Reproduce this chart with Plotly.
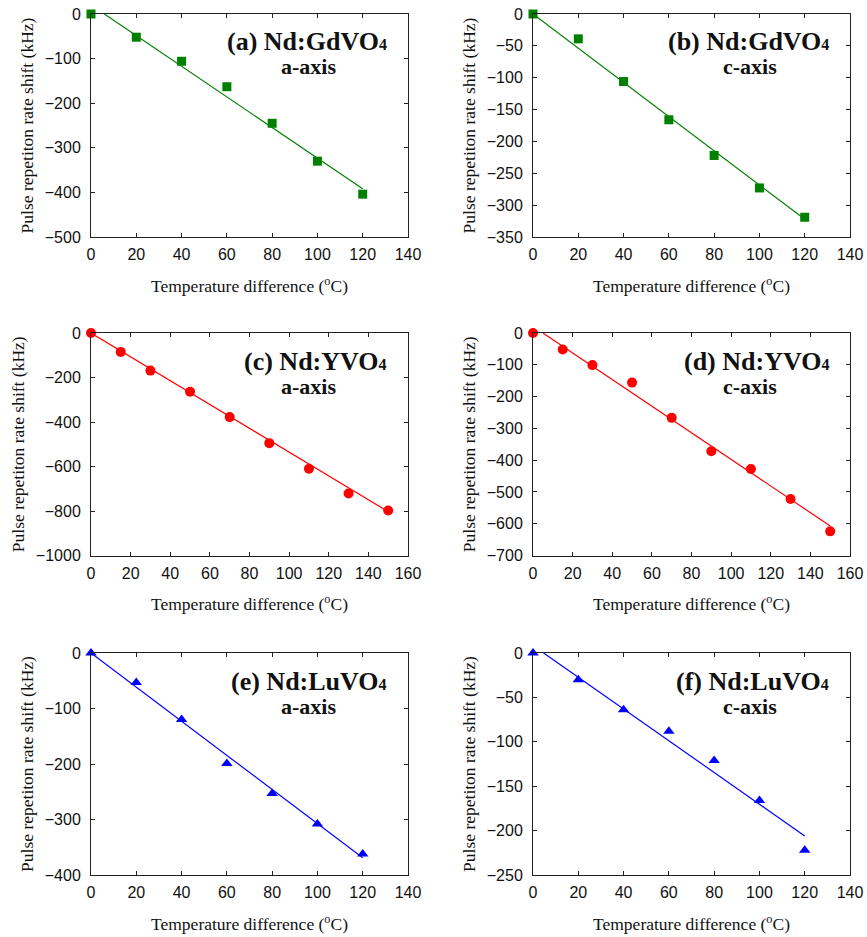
import plotly.graph_objects as go

W, H = 867, 937

# ---- data ----
temp_gd = [0, 20, 40, 60, 80, 100, 120]
shift_gd_a = [0, -52, -106, -163, -245, -330, -404]
fit_gd_a_x = [5.9, 120]
fit_gd_a_y = [0, -392]

shift_gd_c = [0, -39, -106, -166, -222, -273, -319]
fit_gd_c_x = [0, 120]
fit_gd_c_y = [0, -322]

temp_y = [0, 15, 30, 50, 70, 90, 110, 130, 150]
shift_y_a = [0, -85, -169, -264, -378, -495, -610, -721, -798]
fit_y_a_x = [0, 150]
fit_y_a_y = [0, -803]

shift_y_c = [0, -52, -101, -156, -267, -372, -428, -522, -624]
fit_y_c_x = [5, 150]
fit_y_c_y = [0, -607]

temp_lu = [0, 20, 40, 60, 80, 100, 120]
shift_lu_a = [0, -53, -120, -199, -253, -308, -362]
fit_lu_a_x = [0, 120]
fit_lu_a_y = [0, -369]

shift_lu_c = [0, -30, -64, -88, -121, -166, -222]
fit_lu_c_x = [4.7, 120]
fit_lu_c_y = [0, -206]

x_ranges = [[0, 140], [0, 140], [0, 160], [0, 160], [0, 140], [0, 140]]
y_ranges = [[-500, 0], [-350, 0], [-1000, 0], [-700, 0], [-400, 0], [-250, 0]]
y_dticks = [100, 50, 200, 100, 100, 50]

titles = ["(a) Nd:GdVO", "(b) Nd:GdVO", "(c) Nd:YVO", "(d) Nd:YVO", "(e) Nd:LuVO", "(f) Nd:LuVO"]
subtitles = ["a-axis", "c-axis", "a-axis", "c-axis", "a-axis", "c-axis"]

GREEN = "#008000"
RED = "#ff0000"
BLUE = "#0000ff"

panels = [
    (temp_gd, shift_gd_a, fit_gd_a_x, fit_gd_a_y, GREEN, "square", 9),
    (temp_gd, shift_gd_c, fit_gd_c_x, fit_gd_c_y, GREEN, "square", 9),
    (temp_y, shift_y_a, fit_y_a_x, fit_y_a_y, RED, "circle", 10),
    (temp_y, shift_y_c, fit_y_c_x, fit_y_c_y, RED, "circle", 10),
    (temp_lu, shift_lu_a, fit_lu_a_x, fit_lu_a_y, BLUE, "triangle-up", 10),
    (temp_lu, shift_lu_c, fit_lu_c_x, fit_lu_c_y, BLUE, "triangle-up", 10),
]

# pixel layout of plot frames
col_px = [(91, 408), (533, 850)]
row_px = [(14, 237), (333, 555.5), (653, 875)]

SERIF = "Liberation Serif, Times New Roman, serif"
SANS = "Liberation Sans, Arial, sans-serif"

fig = go.Figure()
layout = dict(
    width=W, height=H,
    margin=dict(l=0, r=0, t=0, b=0, pad=0),
    paper_bgcolor="white", plot_bgcolor="white",
    showlegend=False,
)
annotations = []

for i, (xs, ys, fx, fy, color, sym, msize) in enumerate(panels):
    r, c = divmod(i, 2)
    n = i + 1
    xa = "x" if n == 1 else f"x{n}"
    ya = "y" if n == 1 else f"y{n}"
    fig.add_trace(go.Scatter(x=fx, y=fy, mode="lines", xaxis=xa, yaxis=ya,
                             line=dict(color=color, width=1.2)))
    fig.add_trace(go.Scatter(x=xs, y=ys, mode="markers", xaxis=xa, yaxis=ya,
                             marker=dict(color=color, symbol=sym, size=msize,
                                         line=dict(width=0)),
                             cliponaxis=False))
    x0, x1 = col_px[c]
    y0, y1 = row_px[r]
    common = dict(showline=True, linecolor="#222", linewidth=1, mirror="ticks",
                  ticks="inside", ticklen=4, tickcolor="#222", showgrid=False,
                  zeroline=False, automargin=False,
                  tickfont=dict(family=SANS, size=16, color="#111"))
    layout["xaxis" if n == 1 else f"xaxis{n}"] = dict(
        domain=[x0 / W, x1 / W], anchor=ya, range=x_ranges[i], dtick=20,
        ticklabelstandoff=3,
        title=dict(text="Temperature difference (<sup>o</sup>C)", standoff=17,
                   font=dict(family=SERIF, size=17.5, color="#111")),
        **common)
    layout["yaxis" if n == 1 else f"yaxis{n}"] = dict(
        domain=[1 - y1 / H, 1 - y0 / H], anchor=xa, range=y_ranges[i], dtick=y_dticks[i],
        ticklabelstandoff=6,
        title=dict(text="Pulse repetiton rate shift (kHz)", standoff=6,
                   font=dict(family=SERIF, size=17.5, color="#111")),
        **common)
    # panel titles
    annotations.append(dict(
        xref="paper", yref="paper", x=(x1 - 19) / W, y=1 - (y0 + 28) / H,
        xanchor="right", yanchor="middle", showarrow=False,
        text=f"<b>{titles[i]}<span style='font-size:16px'>4</span></b>",
        font=dict(family=SERIF, size=26, color="#111")))
    annotations.append(dict(
        xref="paper", yref="paper", x=(x1 - 100) / W, y=1 - (y0 + 53) / H,
        xanchor="center", yanchor="middle", showarrow=False,
        text=f"<b>{subtitles[i]}</b>",
        font=dict(family=SERIF, size=22, color="#111")))

layout["annotations"] = annotations
fig.update_layout(**layout)
fig.write_html("out.html", config={"displayModeBar": False},
               post_script="document.body.style.margin='0px';")
